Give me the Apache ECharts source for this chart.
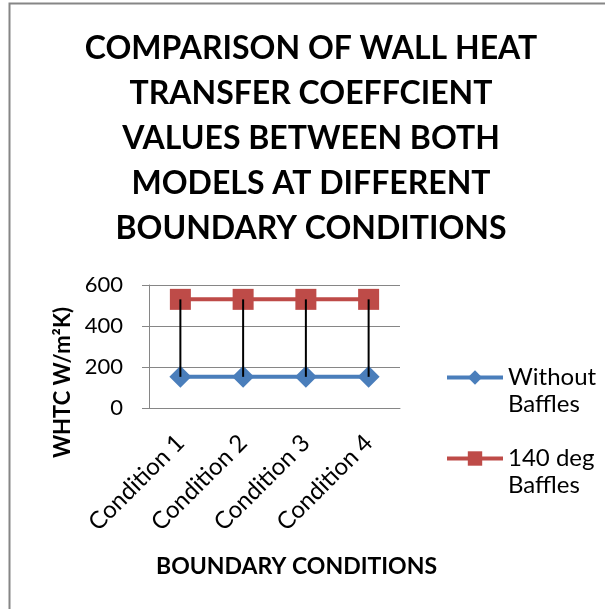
<!DOCTYPE html>
<html>
<head>
<meta charset="utf-8">
<script src="https://cdn.jsdelivr.net/npm/echarts@6/dist/echarts.min.js"></script>
<style>
  html, body { margin: 0; padding: 0; background: #fff; overflow: hidden; }
  #chart { width: 605px; height: 609px; }
</style>
</head>
<body>
<div id="chart"></div>
<script>
// Boundary conditions on the category axis
const categories = ['Condition 1', 'Condition 2', 'Condition 3', 'Condition 4'];
// Wall heat transfer coefficient, W/m²K
const withoutBaffles = [152, 152, 152, 152];
const baffles140 = [530, 530, 530, 530];
// Value axis ticks
const yMin = 0, yMax = 600, yStep = 200;

const FONT = 'Lato';
const GRID_GREY = '#868686';
const BLUE = '#4A7EBB';
const RED = '#BE4B48';

const chart = echarts.init(document.getElementById('chart'), null, { renderer: 'canvas' });

// High–low connector between the two series at each category
const dropLines = categories.map((c, i) => [i, withoutBaffles[i], baffles140[i]]);

chart.setOption({
  backgroundColor: '#ffffff',
  animation: false,
  title: {
    text: 'COMPARISON OF WALL HEAT\nTRANSFER COEFFCIENT\nVALUES BETWEEN BOTH\nMODELS AT DIFFERENT\nBOUNDARY CONDITIONS',
    left: 306,
    top: 21,
    textAlign: 'center',
    textStyle: {
      fontFamily: FONT, fontWeight: 'bold', fontSize: 32, lineHeight: 45, color: '#000'
    }
  },
  legend: {
    orient: 'vertical',
    left: 440,
    top: 332,
    itemWidth: 56,
    itemHeight: 18,
    itemGap: 0,
    lineStyle: { width: 4 },
    // a blank first line keeps the first text line level with the key
    formatter: name => ' \n' + name,
    textStyle: {
      fontFamily: FONT, fontSize: 24, lineHeight: 27, color: '#000'
    },
    data: ['Without\nBaffles', '140 deg\nBaffles']
  },
  grid: { left: 149, right: 205, top: 285, bottom: 201 },
  xAxis: {
    type: 'category',
    data: categories,
    boundaryGap: true,
    axisLine: { lineStyle: { color: GRID_GREY, width: 1 } },
    axisTick: { show: false },
    axisLabel: {
      rotate: 45, margin: 31, interval: 0,
      fontFamily: FONT, fontSize: 24, color: '#000'
    },
    name: 'BOUNDARY CONDITIONS',
    nameLocation: 'middle',
    nameGap: 147,
    nameTextStyle: {
      fontFamily: FONT, fontWeight: 'bold', fontSize: 23, color: '#000',
      padding: [0, 0, 0, 44]
    }
  },
  yAxis: {
    type: 'value',
    min: yMin, max: yMax, interval: yStep,
    axisLine: { show: true, lineStyle: { color: GRID_GREY, width: 1 } },
    axisTick: { show: true, length: 7, lineStyle: { color: GRID_GREY } },
    splitLine: { show: true, lineStyle: { color: GRID_GREY, width: 1 } },
    axisLabel: { margin: 26, fontFamily: FONT, fontSize: 22, color: '#000' },
    name: 'WHTC W/m²K)',
    nameLocation: 'middle',
    nameRotate: 90,
    nameGap: 75,
    nameTextStyle: {
      fontFamily: FONT, fontWeight: 'bold', fontSize: 22, color: '#000',
      padding: [0, 72, 0, 0]
    }
  },
  series: [
    {
      name: 'Without\nBaffles',
      type: 'line',
      data: withoutBaffles,
      symbol: 'diamond',
      symbolSize: 22,
      lineStyle: { color: BLUE, width: 4 },
      itemStyle: { color: BLUE },
      z: 2
    },
    {
      name: '140 deg\nBaffles',
      type: 'line',
      data: baffles140,
      symbol: 'rect',
      symbolSize: 21,
      lineStyle: { color: RED, width: 4 },
      itemStyle: { color: RED },
      z: 2
    },
    {
      type: 'custom',
      data: dropLines,
      z: 5,
      silent: true,
      renderItem: (params, api) => {
        const low = api.coord([api.value(0), api.value(1)]);
        const high = api.coord([api.value(0), api.value(2)]);
        return {
          type: 'line',
          shape: { x1: low[0], y1: low[1], x2: high[0], y2: high[1] },
          style: { stroke: '#000', lineWidth: 2 }
        };
      }
    }
  ],
  graphic: [
    {
      type: 'polyline',
      shape: { points: [[9.5, 609], [9.5, 3.5], [605, 3.5]] },
      style: { fill: null, stroke: GRID_GREY, lineWidth: 2 },
      silent: true
    }
  ]
});
</script>
</body>
</html>
